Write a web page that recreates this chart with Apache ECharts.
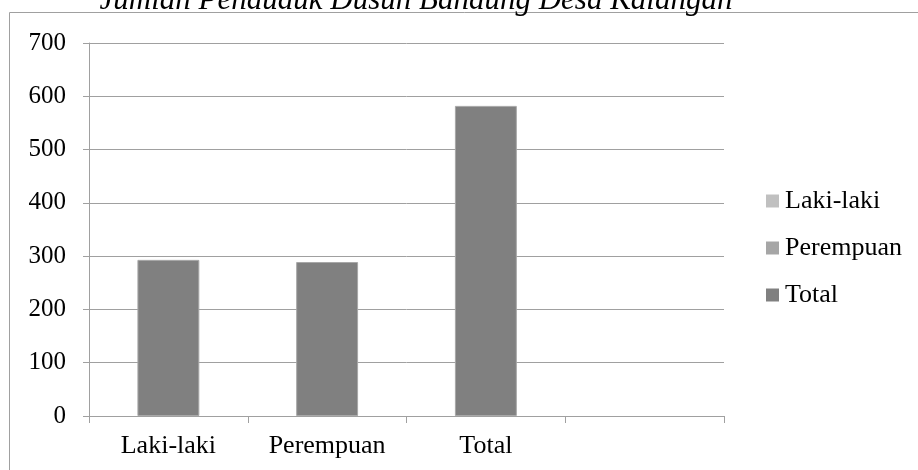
<!DOCTYPE html>
<html>
<head>
<meta charset="utf-8">
<script src="https://cdn.jsdelivr.net/npm/echarts@6/dist/echarts.min.js"></script>
<style>
  html, body { margin: 0; padding: 0; background: #fff; }
  #chart { width: 918px; height: 470px; }
</style>
</head>
<body>
<div id="chart"></div>
<script>
// Jumlah penduduk per kategori
const titleText = 'Jumlah Penduduk Dusun Bandung Desa Kalangan';
const categories = ['Laki-laki', 'Perempuan', 'Total', ''];
const seriesNames = ['Laki-laki', 'Perempuan', 'Total'];
const seriesColors = ['#c0c0c0', '#a6a6a6', '#808080'];
const lakiValues = [];
const perempuanValues = [];
const totalValues = [293, 289, 582, null];
const yTicks = { min: 0, max: 700, step: 100 };

const FONT = "'Liberation Serif', 'Times New Roman', serif";
const LINE = '#a0a0a0';

const chart = echarts.init(document.getElementById('chart'), null, { renderer: 'canvas' });

const seriesData = [lakiValues, perempuanValues, totalValues];

chart.setOption({
  animation: false,
  backgroundColor: '#ffffff',
  title: {
    text: titleText,
    left: 416,
    textAlign: 'center',
    top: -15,
    padding: 0,
    textStyle: {
      fontFamily: FONT,
      fontStyle: 'italic',
      fontWeight: 'normal',
      fontSize: 31,
      lineHeight: 31,
      color: '#000'
    }
  },
  graphic: [{
    type: 'rect',
    silent: true,
    z: -1,
    shape: { x: 9.5, y: 12.5, width: 930, height: 480 },
    style: { fill: 'none', stroke: LINE, lineWidth: 1 }
  }],
  legend: {
    orient: 'vertical',
    left: 766,
    top: 188,
    padding: 0,
    itemWidth: 13,
    itemHeight: 13,
    itemGap: 21,
    icon: 'rect',
    data: seriesNames,
    itemStyle: { borderWidth: 0 },
    textStyle: {
      fontFamily: FONT,
      fontSize: 26,
      lineHeight: 25,
      color: '#000',
      padding: [0, 0, 0, 1]
    }
  },
  grid: { left: 89, right: 194, top: 43, bottom: 54, containLabel: false },
  xAxis: {
    type: 'category',
    data: categories,
    boundaryGap: true,
    axisLine: { show: true, lineStyle: { color: LINE, width: 1 } },
    axisTick: { show: true, interval: 0, length: 7, lineStyle: { color: LINE } },
    axisLabel: {
      interval: 0,
      margin: 17,
      fontFamily: FONT,
      fontSize: 26,
      color: '#000'
    },
    splitLine: { show: false }
  },
  yAxis: {
    type: 'value',
    min: yTicks.min,
    max: yTicks.max,
    interval: yTicks.step,
    axisLine: { show: true, lineStyle: { color: LINE, width: 1 } },
    axisTick: { show: true, length: 6, lineStyle: { color: LINE } },
    axisLabel: {
      margin: 23,
      fontFamily: FONT,
      fontSize: 25,
      color: '#000'
    },
    splitLine: { show: true, lineStyle: { color: LINE, width: 1 } }
  },
  series: seriesNames.map((name, i) => ({
    name: name,
    type: 'bar',
    stack: 'jumlah',
    barWidth: '39%',
    data: seriesData[i],
    itemStyle: { color: seriesColors[i], borderColor: '#a8a8a8', borderWidth: 1 },
    emphasis: { disabled: true }
  }))
});
</script>
</body>
</html>
